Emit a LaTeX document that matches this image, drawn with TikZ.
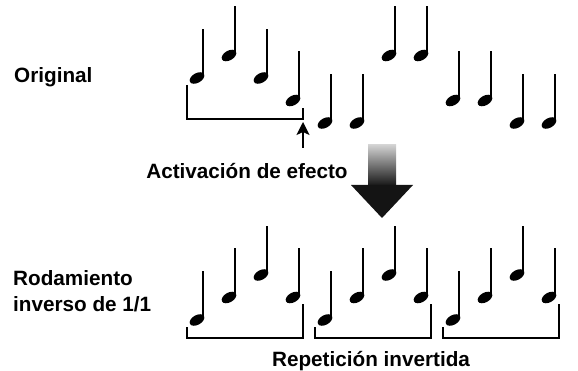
\documentclass[tikz,border=0pt]{standalone}
\usepackage{fontspec}
\setmainfont{Liberation Sans}
\usetikzlibrary{arrows.meta}
\tikzset{
  txt/.style={font=\fontsize{20.7}{27}\selectfont\bfseries, inner sep=0pt, anchor=base west},
  brk/.style={line width=1.5pt},
  arr/.style={-{Stealth[length=13pt, width=13pt, inset=3pt]}, line width=1.6pt},
  qnote/.pic={
    \fill[rotate=30] (0,0) ellipse [x radius=8, y radius=4.8];
    \draw[line width=2pt] (6.3,-1) -- (6.3,-49);
  },
}

\begin{document}
\begin{tikzpicture}[x=1pt, y=-1pt]
  \useasboundingbox (0,0) rectangle (578,371);

  % labels
  \node[txt] (orig) at (14,83) {Original};
  \node[txt, anchor=base] (act) at (247,179) {Activación de efecto};
  \node[txt, align=left] (rod) at (13,312) {Rodamiento\\inverso de 1/1};
  \node[txt, anchor=base] (rep) at (371,366) {Repetición invertida};

  % original sequence
  \pic at (197,78) {qnote};
  \pic at (229,55.5) {qnote};
  \pic at (261,78) {qnote};
  \pic at (293,100.5) {qnote};
  \pic at (325,123) {qnote};
  \pic at (357,123) {qnote};
  \pic at (389,55.5) {qnote};
  \pic at (421,55.5) {qnote};
  \pic at (453,100.5) {qnote};
  \pic at (485,100.5) {qnote};
  \pic at (517,123) {qnote};
  \pic at (549,123) {qnote};

  % bracket and trigger arrow
  \coordinate (ob1) at (187,85);
  \coordinate (obc) at (303,119);
  \coordinate (ob2) at (303,108);
  \draw[brk] (ob1) |- (obc) -- (ob2);
  \coordinate (trig) at (303,148);
  \coordinate (trigtip) at (303,122);
  \draw[arr] (trig) -- (trigtip);

  % big arrow
  \shade[top color=black!18, bottom color=black!92] (368,145) rectangle (396,186);
  \fill[black!92] (351,185) -- (413,185) -- (382,218) -- cycle;

  % reverse roll, three repeats
  \pic at (197,320) {qnote};
  \pic at (229,297.5) {qnote};
  \pic at (261,275) {qnote};
  \pic at (293,297.5) {qnote};
  \pic at (325,320) {qnote};
  \pic at (357,297.5) {qnote};
  \pic at (389,275) {qnote};
  \pic at (421,297.5) {qnote};
  \pic at (453,320) {qnote};
  \pic at (485,297.5) {qnote};
  \pic at (517,275) {qnote};
  \pic at (549,297.5) {qnote};

  % repeat brackets
  \coordinate (rb1a) at (187,327);
  \coordinate (rb1c) at (303,338);
  \coordinate (rb1b) at (303,304);
  \coordinate (rb2a) at (315,327);
  \coordinate (rb2c) at (431,338);
  \coordinate (rb2b) at (431,304);
  \coordinate (rb3a) at (443,327);
  \coordinate (rb3c) at (559,338);
  \coordinate (rb3b) at (559,304);
  \draw[brk] (rb1a) |- (rb1c) -- (rb1b);
  \draw[brk] (rb2a) |- (rb2c) -- (rb2b);
  \draw[brk] (rb3a) |- (rb3c) -- (rb3b);
\end{tikzpicture}
\end{document}
